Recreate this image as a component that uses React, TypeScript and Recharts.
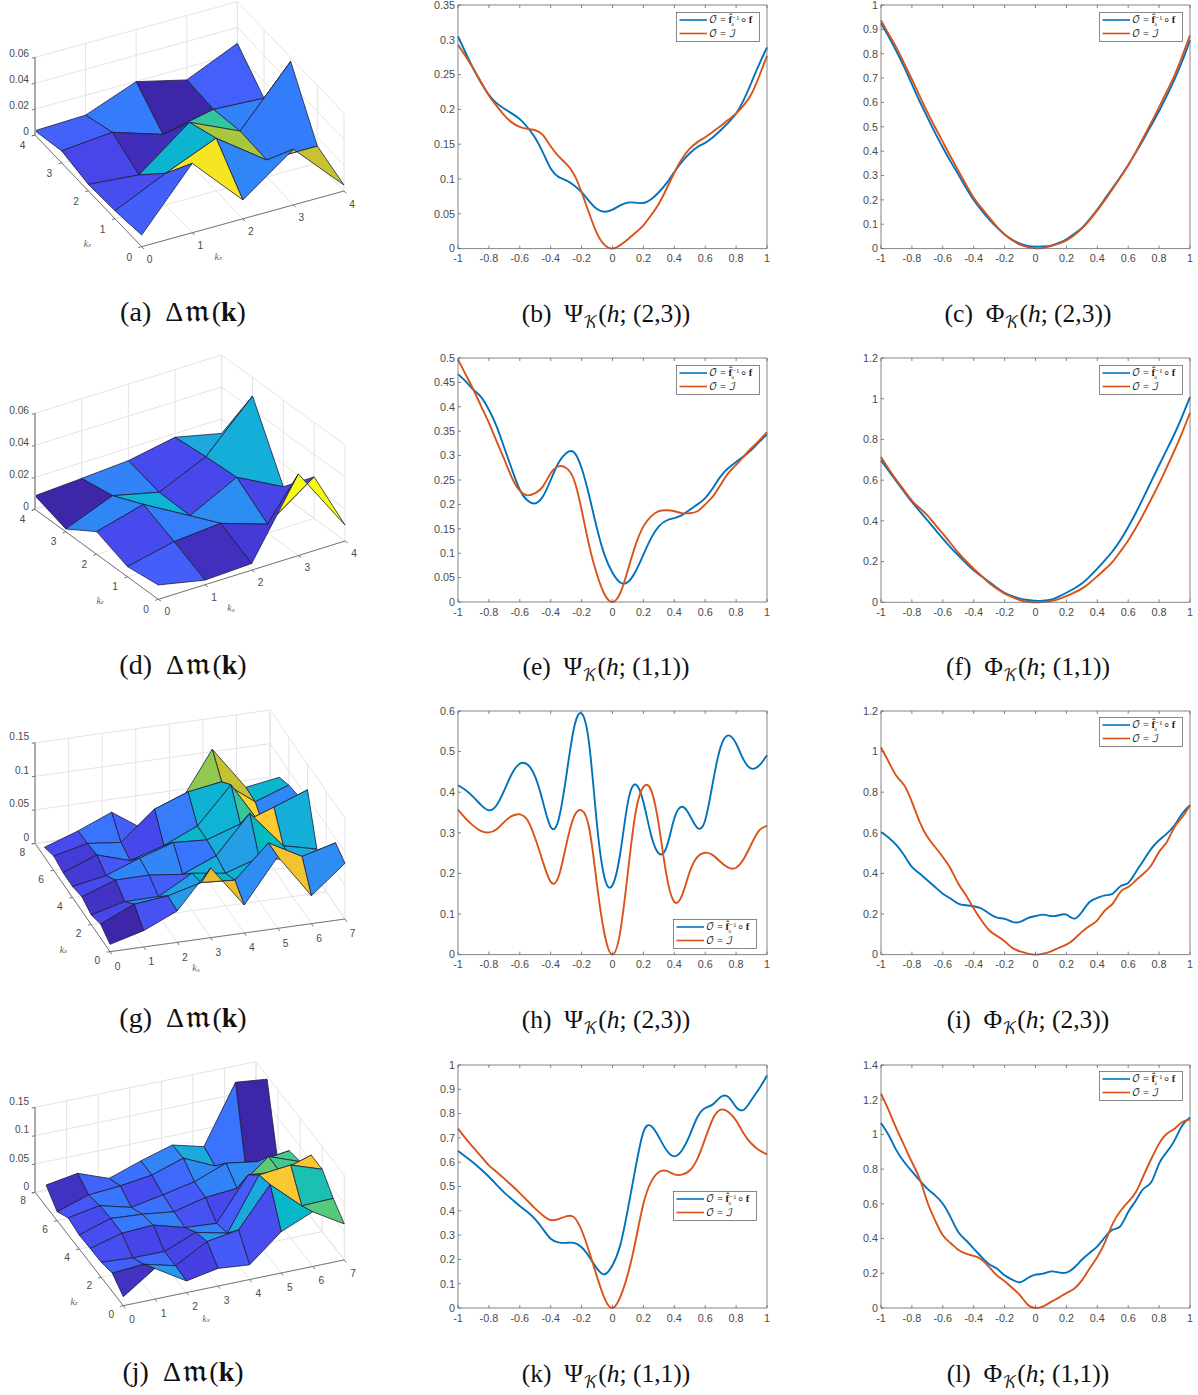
import React from 'react';
import {
  LineChart,
  Line,
  ScatterChart,
  Scatter,
  XAxis,
  YAxis,
  Legend,
} from 'recharts';

// sample positions shared by every curve panel
const hValues = [
  -1, -0.95, -0.9, -0.85, -0.8, -0.75, -0.7, -0.65, -0.6, -0.55, -0.5, -0.45, -0.4, -0.35, -0.3, -0.25, -0.2, -0.15, -0.1, -0.05, 0,
  0.05, 0.1, 0.15, 0.2, 0.25, 0.3, 0.35, 0.4, 0.45, 0.5, 0.55, 0.6, 0.65, 0.7, 0.75, 0.8, 0.85, 0.9, 0.95, 1,
];
const hTicks = [-1, -0.8, -0.6, -0.4, -0.2, 0, 0.2, 0.4, 0.6, 0.8, 1];

const bBlue = [.305,.281,.258,.238,.221,.209,.201,.194,.186,.174,.159,.138,.115,.103,.098,.091,.081,.068,.057,.053,.056,.062,.066,.066,.0655,.071,.081,.094,.110,.125,.137,.146,.152,.16,.170,.181,.194,.214,.239,.265,.289];
const bRed = [.293,.276,.2585,.239,.220,.205,.1915,.181,.175,.172,.170,.163,.147,.133,.122,.107,.081,.05,.0215,.005,0,.005,.0135,.023,.0335,.048,.0645,.086,.109,.129,.1435,.153,.16,.168,.176,.185,.194,.206,.2225,.248,.277];
const cBlue = [.925,.87,.81,.745,.675,.605,.54,.475,.415,.358,.305,.25,.2,.158,.12,.087,.058,.036,.02,.011,.008,.009,.012,.023,.038,.06,.085,.12,.16,.205,.25,.295,.343,.395,.45,.507,.565,.628,.695,.77,.855];
const cRed = [.937,.88,.825,.76,.695,.627,.56,.498,.438,.378,.32,.263,.209,.167,.128,.09,.058,.034,.016,.006,.001,.003,.01,.02,.034,.055,.082,.117,.157,.2,.246,.293,.342,.398,.458,.518,.581,.645,.711,.79,.875];
const eBlue = [.467,.452,.435,.42,.394,.36,.3155,.271,.23,.208,.202,.2165,.25,.285,.305,.307,.2745,.2165,.15,.095,.06,.04,.041,.063,.097,.131,.155,.167,.172,.178,.189,.2,.213,.2335,.2575,.2745,.287,.2985,.312,.328,.343];
const eRed = [.497,.466,.435,.401,.367,.329,.292,.254,.228,.2185,.223,.237,.264,.278,.2745,.251,.189,.114,.056,.015,0,.018,.066,.1175,.155,.1755,.186,.188,.186,.182,.182,.186,.2,.2165,.2405,.264,.281,.2985,.3155,.331,.348];
const fBlue = [.697,.645,.594,.543,.493,.448,.403,.358,.313,.27,.231,.193,.157,.128,.1,.072,.046,.03,.018,.011,.007,.008,.013,.028,.047,.068,.092,.126,.165,.207,.252,.306,.37,.44,.517,.595,.673,.75,.828,.915,1.008];
const fRed = [.713,.655,.6,.55,.5,.463,.427,.382,.337,.29,.244,.203,.165,.13,.095,.067,.043,.025,.01,.003,0,.002,.006,.016,.03,.047,.067,.095,.128,.162,.2,.25,.304,.366,.435,.508,.583,.664,.746,.835,.931];
const hBlue = [.417,.405,.388,.368,.3555,.368,.405,.446,.470,.468,.4375,.376,.3145,.331,.4375,.557,.594,.5155,.3185,.187,.171,.249,.376,.419,.376,.294,.249,.265,.335,.364,.343,.312,.331,.425,.5115,.54,.52,.479,.458,.466,.491];
const hRed = [.357,.335,.317,.304,.301,.309,.327,.3415,.3455,.331,.286,.228,.179,.191,.269,.339,.3555,.31,.171,.0475,0,.056,.204,.351,.413,.405,.3185,.195,.13,.146,.204,.2405,.251,.245,.228,.214,.214,.236,.273,.306,.317];
const iBlue = [.604,.576,.539,.489,.432,.399,.366,.333,.3,.276,.251,.243,.238,.227,.202,.182,.176,.161,.161,.18,.19,.197,.19,.194,.197,.177,.21,.259,.279,.292,.3,.337,.353,.407,.465,.522,.563,.596,.637,.695,.736];
const iRed = [1.02,.949,.88,.834,.752,.654,.58,.53,.481,.424,.35,.292,.227,.169,.12,.092,.066,.033,.016,.005,0,.005,.016,.033,.049,.076,.112,.141,.169,.218,.251,.309,.333,.366,.399,.44,.506,.555,.629,.678,.736];
const kBlue = [.646,.622,.598,.57,.54,.507,.475,.447,.42,.395,.365,.325,.285,.27,.268,.268,.25,.21,.162,.139,.176,.258,.409,.58,.724,.749,.704,.649,.624,.649,.711,.786,.823,.838,.868,.868,.827,.816,.857,.903,.957];
const kRed = [.738,.697,.66,.623,.587,.56,.532,.503,.473,.441,.409,.381,.362,.366,.377,.374,.32,.23,.128,.038,0,.045,.141,.278,.429,.519,.56,.564,.55,.549,.566,.615,.697,.779,.816,.807,.772,.717,.676,.649,.632];
const lBlue = [1.066,.995,.908,.841,.787,.736,.688,.649,.601,.524,.438,.39,.342,.294,.252,.227,.188,.163,.148,.173,.192,.198,.211,.205,.204,.232,.278,.317,.355,.409,.451,.472,.553,.62,.688,.726,.832,.899,.966,1.052,1.097];
const lRed = [1.235,1.139,1.033,.937,.841,.745,.611,.505,.419,.374,.336,.313,.3,.28,.236,.188,.154,.115,.073,.019,0,.01,.035,.06,.086,.111,.159,.227,.294,.38,.486,.559,.611,.668,.764,.86,.947,1.004,1.033,1.072,1.085];

// surface heights, one row per k_z, one column per k_x
const aZ = [
  [.009, .0536, .0146, .043, .0046],
  [.0062, .0243, .0407, .0131, .0131],
  [.005, .0015, .0314, .0139, .057],
  [.0093, .0129, .0005, .0091, .007],
  [.0033, .0046, .0197, .0103, .0278],
];
const dZ = [
  [.009, .0029, .0042, .051, .01],
  [.0064, .0129, .0152, .0056, .026],
  [.0142, .0221, .0059, .0208, .0058],
  [.0018, .0135, .0065, .0196, .0484],
  [.0085, .0102, .0122, .0177, .011],
];
const gZ = [
  [.0109, .0243, .0467, .104, .0417, .107, .0417, .083],
  [.0209, .0437, .049, .062, .0586, .107, .08, .0934],
  [.0144, .0273, .0278, .0556, .0487, .065, .0546, .0378],
  [.0214, .0392, .0397, .0338, .0546, .1108, .0556, .0437],
  [.0164, .0258, .0447, .0611, .0581, .075, .0929, .1118],
  [.0169, .0363, .0209, .0363, .0586, .113, .04, .083],
  [.0214, .0333, .0278, .0705, .0894, .0974, .0606, .0785],
  [.0144, .0318, .0527, .0194, .05, .1257, .062, .07],
];
const jZ = [
  [.0159, .0541, .0206, .0312, .0259, .0729, .0965, .0635],
  [.0324, .0365, .0224, .0535, .0624, .131, .082, .0835],
  [.0265, .0229, .0224, .0447, .0318, .123, .129, .11],
  [.0259, .0412, .0441, .0282, .0241, .098, .0924, .11],
  [.0247, .0424, .0382, .0312, .0447, .0494, .094, .0735],
  [.03, .04, .0253, .0359, .0476, .0688, .06, .0678],
  [.0159, .0338, .0382, .0459, .0641, .0388, .012, .02],
  [.0379, .047, .0265, .0459, .0624, .048, .15, .144],
];

const smallXTicks = [0, 1, 2, 3, 4];
const largeXTicks = [0, 1, 2, 3, 4, 5, 6, 7];
const largeZTicks = [0, 2, 4, 6, 8];

const BLUE = '#0072BD';
const RED = '#D95319';
const TICK_COLOR = '#4a4a4a';
const SANS = '"Liberation Sans", Arial, sans-serif';
const SERIF = '"Liberation Serif", "DejaVu Math TeX Gyre", "DejaVu Serif", serif';

const PARULA: number[][] = [
  [.2422, .1504, .6603], [.2783, .2559, .8991], [.2795, .3447, .9717], [.2206, .4603, .9973],
  [.1764, .5499, .952], [.138, .6276, .8973], [.0689, .6948, .8394], [.0067, .7306, .7661],
  [.1717, .767, .6554], [.2906, .7973, .5188], [.5044, .7993, .348], [.7242, .7698, .191],
  [.9035, .733, .1774], [.9952, .7861, .199], [.9598, .8906, .1452], [.9763, .9831, .0538],
];

const parula = (t: number) => {
  const p = Math.min(Math.max(t, 0), 1) * (PARULA.length - 1);
  const lo = Math.min(Math.floor(p), PARULA.length - 2);
  const f = p - lo;
  const c = PARULA[lo].map((v, n) => Math.round(255 * (v + (PARULA[lo + 1][n] - v) * f)));
  return `rgb(${c[0]},${c[1]},${c[2]})`;
};

interface SurfaceView {
  left: number;
  top: number;
  grid: number[][];
  origin: [number, number];
  stepX: [number, number];
  stepZ: [number, number];
  unitsPerHeight: number;
  xMax: number;
  zMax: number;
  heightMax: number;
  heightTicks: number[];
  xTicks: number[];
  zTicks: number[];
  xTickOffset: [number, number];
  zTickOffset: [number, number];
  heightTickDy: number;
  xLabel: [number, number];
  zLabel: [number, number];
}

const outline = (fill: string, stroke: string, strokeWidth: number) => (p: any) => {
  const pts = p.points.map((q: any) => `${q.x},${q.y}`).join(' ');
  return fill === 'none'
    ? <polyline key="l" points={pts} fill="none" stroke={stroke} strokeWidth={strokeWidth} />
    : <polygon key="f" points={pts} fill={fill} stroke={stroke} strokeWidth={strokeWidth} strokeLinejoin="round" />;
};

const NoDot = () => <g />;

const tickText = (p: any) => {
  const d = p.payload;
  return (
    <text x={p.cx} y={p.cy} textAnchor={d.anchor} dominantBaseline="central" fontFamily={SANS} fontSize={10.2} fill={TICK_COLOR}>
      {d.label}
    </text>
  );
};

const axisName = (p: any) => (
  <text x={p.cx} y={p.cy} textAnchor="middle" dominantBaseline="central" fontFamily={SERIF} fontSize={10} fontStyle="italic" fill="#666">
    k<tspan dy={2} fontSize={7}>{p.payload.sub}</tspan>
  </text>
);

const Surface: React.FC<{ view: SurfaceView }> = ({ view }) => {
  const { grid, origin, stepX, stepZ, unitsPerHeight, xMax, zMax, heightMax } = view;
  const at = (kx: number, kz: number, h: number) => ({
    x: origin[0] + kx * stepX[0] + kz * stepZ[0],
    y: origin[1] + kx * stepX[1] + kz * stepZ[1] - h * unitsPerHeight,
  });
  const stroked = (key: string, pts: { x: number; y: number }[], stroke: string, sw: number) => (
    <Scatter key={key} data={pts} isAnimationActive={false} shape={NoDot} line={outline('none', stroke, sw)} />
  );
  const norm = (v: [number, number]) => {
    const l = Math.hypot(v[0], v[1]);
    return [v[0] / l, v[1] / l];
  };
  const outX = norm(stepX);
  const outZ = norm(stepZ);
  const TL = 10;

  const walls: React.ReactNode[] = [];
  view.xTicks.forEach((t) => {
    walls.push(stroked(`fx${t}`, [at(t, 0, 0), at(t, zMax, 0)], '#e4e4e4', 1));
    walls.push(stroked(`wx${t}`, [at(t, zMax, 0), at(t, zMax, heightMax)], '#e4e4e4', 1));
  });
  view.zTicks.forEach((t) => {
    walls.push(stroked(`fz${t}`, [at(0, t, 0), at(xMax, t, 0)], '#e4e4e4', 1));
    walls.push(stroked(`wz${t}`, [at(xMax, t, 0), at(xMax, t, heightMax)], '#e4e4e4', 1));
  });
  view.heightTicks.forEach((t) => {
    walls.push(stroked(`hl${t}`, [at(0, zMax, t), at(xMax, zMax, t), at(xMax, 0, t)], '#e4e4e4', 1));
  });

  const faces: React.ReactNode[] = [];
  const all = grid.flat();
  const lo = Math.min(...all);
  const hi = Math.max(...all);
  for (let j = grid.length - 2; j >= 0; j--) {
    for (let i = grid[j].length - 2; i >= 0; i--) {
      const pts = [at(i, j, grid[j][i]), at(i + 1, j, grid[j][i + 1]), at(i + 1, j + 1, grid[j + 1][i + 1]), at(i, j + 1, grid[j + 1][i])];
      faces.push(
        <Scatter
          key={`s${i}-${j}`}
          data={pts}
          isAnimationActive={false}
          shape={NoDot}
          line={outline(parula((grid[j][i] - lo) / (hi - lo)), '#1c1c3a', 0.8)}
        />
      );
    }
  }

  const axes: React.ReactNode[] = [
    stroked('ax', [at(0, 0, 0), at(xMax, 0, 0)], '#777', 1),
    stroked('az', [at(0, 0, 0), at(0, zMax, 0)], '#777', 1),
    stroked('ah', [at(0, zMax, 0), at(0, zMax, heightMax)], '#aaa', 2),
  ];
  const labels: any[] = [];
  view.xTicks.forEach((t) => {
    const a = at(t, 0, 0);
    axes.push(stroked(`tx${t}`, [a, { x: a.x - outZ[0] * TL, y: a.y - outZ[1] * TL }], '#777', 1));
    labels.push({ x: a.x + view.xTickOffset[0], y: a.y + view.xTickOffset[1], label: String(t), anchor: 'middle' });
  });
  view.zTicks.forEach((t) => {
    const a = at(0, t, 0);
    axes.push(stroked(`tz${t}`, [a, { x: a.x - outX[0] * TL, y: a.y - outX[1] * TL }], '#777', 1));
    labels.push({ x: a.x + view.zTickOffset[0], y: a.y + view.zTickOffset[1], label: String(t), anchor: 'middle' });
  });
  view.heightTicks.forEach((t) => {
    const a = at(0, zMax, t);
    axes.push(stroked(`th${t}`, [a, { x: a.x - outX[0] * TL, y: a.y - outX[1] * TL }], '#777', 1));
    labels.push({ x: a.x - 18, y: a.y + view.heightTickDy, label: String(t), anchor: 'end' });
  });

  const names = [
    { x: view.xLabel[0], y: view.xLabel[1], sub: 'x' },
    { x: view.zLabel[0], y: view.zLabel[1], sub: 'z' },
  ];

  return (
    <div style={{ position: 'absolute', left: view.left, top: view.top }}>
      {/* the axes run in 3x crop units, projected points go through their scales */}
      <ScatterChart width={360} height={290} margin={{ top: 0, right: 0, bottom: 0, left: 0 }}>
        <XAxis type="number" dataKey="x" domain={[0, 1080]} hide allowDataOverflow />
        <YAxis type="number" dataKey="y" domain={[0, 870]} reversed hide allowDataOverflow />
        {walls}
        {faces}
        {axes}
        <Scatter data={labels} isAnimationActive={false} shape={tickText} />
        <Scatter data={names} isAnimationActive={false} shape={axisName} />
      </ScatterChart>
    </div>
  );
};

const LegendBox: React.FC = () => (
  <svg width={84} height={30} style={{ display: 'block', overflow: 'visible' }}>
    <rect x={0.5} y={0.5} width={83} height={29} fill="#fff" stroke="#555" strokeWidth={0.7} />
    <line x1={3.5} x2={31} y1={8} y2={8} stroke={BLUE} strokeWidth={1.6} />
    <line x1={3.5} x2={31} y1={21.5} y2={21.5} stroke={RED} strokeWidth={1.6} />
    <text x={33} y={11} fontFamily={SERIF} fontSize={10.5} fill="#222">
      𝒪 = <tspan fontWeight="bold">f̂</tspan>
      <tspan dy={-3} fontSize={7}>−1</tspan>
      <tspan dx={-8} dy={6} fontSize={5}>θ</tspan>
      <tspan dx={7} dy={-3}>∘ </tspan>
      <tspan fontWeight="bold">f</tspan>
    </text>
    <text x={33} y={24.5} fontFamily={SERIF} fontSize={10.5} fill="#222">𝒪 = ℐ</text>
  </svg>
);

interface CurveProps {
  left: number;
  right: number;
  top: number;
  bottom: number;
  blue: number[];
  red: number[];
  yTicks: number[];
  legendLeft: number;
  legendTop: number;
}

const Curves: React.FC<CurveProps> = ({ left, right, top, bottom, blue, red, yTicks, legendLeft, legendTop }) => {
  const data = hValues.map((h, i) => ({ h, blue: blue[i], red: red[i] }));
  const domain: [number, number] = [0, yTicks[yTicks.length - 1]];
  const axisProps = { stroke: '#666', strokeWidth: 0.8, interval: 0 as const, tickSize: -3 };
  const tickStyle = { fontSize: 10.8, fontFamily: SANS, fill: TICK_COLOR };
  const chartLeft = left - 30;
  const chartTop = top - 6;
  return (
    <div style={{ position: 'absolute', left: chartLeft, top: chartTop }}>
      <LineChart
        width={right - left + 38}
        height={bottom - top + 26}
        data={data}
        margin={{ top: 5, right: 7, bottom: 0, left: 0 }}
      >
        <XAxis xAxisId="b" dataKey="h" type="number" domain={[-1, 1]} ticks={hTicks} height={20} tick={tickStyle} tickMargin={9} {...axisProps} />
        <XAxis xAxisId="t" orientation="top" dataKey="h" type="number" domain={[-1, 1]} ticks={hTicks} height={1} tickFormatter={() => ''} {...axisProps} />
        <YAxis yAxisId="l" type="number" domain={domain} ticks={yTicks} width={30} tick={tickStyle} tickMargin={6} {...axisProps} />
        <YAxis yAxisId="r" orientation="right" type="number" domain={domain} ticks={yTicks} width={1} tickFormatter={() => ''} {...axisProps} />
        <Legend
          layout="vertical"
          align="center"
          verticalAlign="middle"
          content={() => <LegendBox />}
          wrapperStyle={{ left: legendLeft - chartLeft, top: legendTop - chartTop, right: 'auto', bottom: 'auto', width: 84, height: 30 }}
        />
        <Line xAxisId="b" yAxisId="l" type="natural" dataKey="blue" stroke={BLUE} strokeWidth={1.9} dot={false} isAnimationActive={false} />
        <Line xAxisId="b" yAxisId="l" type="natural" dataKey="red" stroke={RED} strokeWidth={1.9} dot={false} isAnimationActive={false} />
      </LineChart>
    </div>
  );
};

const Caption: React.FC<{ x: number; y: number; tag: string; kind: 'm' | 'psi' | 'phi'; arg?: string }> = ({ x, y, tag, kind, arg }) => (
  <div
    style={{
      position: 'absolute',
      left: x,
      top: y,
      transform: 'translate(-50%, -50%)',
      fontFamily: SERIF,
      fontSize: kind === 'm' ? 28 : 25.5,
      color: '#111',
      whiteSpace: 'nowrap',
      lineHeight: '30px',
    }}
  >
    ({tag})&nbsp;&nbsp;
    {kind === 'm' ? (
      <span>Δ𝔪(<b>k</b>)</span>
    ) : (
      <span>
        {kind === 'psi' ? 'Ψ' : 'Φ'}
        <sub style={{ fontSize: 16, lineHeight: 0 }}>𝒦</sub>(<i>h</i>; ({arg}))
      </span>
    )}
  </div>
);

const viewA: SurfaceView = {
  left: 0, top: 0, grid: aZ, origin: [425, 740], stepX: [151.75, -41.75], stepZ: [-80, -83.75], unitsPerHeight: 3883,
  xMax: 4, zMax: 4, heightMax: 0.06, heightTicks: [0, 0.02, 0.04, 0.06], xTicks: smallXTicks, zTicks: smallXTicks,
  xTickOffset: [24, 39], zTickOffset: [-37, 32], heightTickDy: -12, xLabel: [655, 768], zLabel: [262, 730],
};
const viewD: SurfaceView = {
  left: 0, top: 350, grid: dZ, origin: [475, 748], stepX: [140, -43.75], stepZ: [-92.5, -67.5], unitsPerHeight: 4800,
  xMax: 4, zMax: 4, heightMax: 0.06, heightTicks: [0, 0.02, 0.04, 0.06], xTicks: smallXTicks, zTicks: smallXTicks,
  xTickOffset: [27, 37], zTickOffset: [-37, 30], heightTickDy: -8, xLabel: [693, 773], zLabel: [300, 750],
};
const viewG: SurfaceView = {
  left: 0, top: 700, grid: gZ, origin: [330, 755], stepX: [100.7, -14], stepZ: [-28.1, -40.6], unitsPerHeight: 2013,
  xMax: 7, zMax: 8, heightMax: 0.15, heightTicks: [0, 0.05, 0.1, 0.15], xTicks: largeXTicks, zTicks: largeZTicks,
  xTickOffset: [23, 44], zTickOffset: [-38, 26], heightTickDy: -18, xLabel: [588, 803], zLabel: [190, 748],
};
const viewJ: SurfaceView = {
  left: 0, top: 1055, grid: jZ, origin: [370, 752], stepX: [94.7, -19.6], stepZ: [-33.1, -42.5], unitsPerHeight: 1700,
  xMax: 7, zMax: 8, heightMax: 0.15, heightTicks: [0, 0.05, 0.1, 0.15], xTicks: largeXTicks, zTicks: largeZTicks,
  xTickOffset: [26, 42], zTickOffset: [-36, 25], heightTickDy: -18, xLabel: [618, 790], zLabel: [222, 738],
};

const L1 = 458.3;
const R1 = 767.3;
const L2 = 881;
const R2 = 1190;

export default function App() {
  return (
    <div style={{ position: 'absolute', left: 0, top: 0, width: 1198, height: 1395, background: '#fff', overflow: 'hidden' }}>
      <Surface view={viewA} />
      <Surface view={viewD} />
      <Surface view={viewG} />
      <Surface view={viewJ} />

      <Curves left={L1} right={R1} top={4.7} bottom={248.3} blue={bBlue} red={bRed} yTicks={[0, .05, .1, .15, .2, .25, .3, .35]} legendLeft={676} legendTop={11.5} />
      <Curves left={L2} right={R2} top={4.7} bottom={248.3} blue={cBlue} red={cRed} yTicks={[0, .1, .2, .3, .4, .5, .6, .7, .8, .9, 1]} legendLeft={1099} legendTop={11.5} />
      <Curves left={L1} right={R1} top={358.3} bottom={602.3} blue={eBlue} red={eRed} yTicks={[0, .05, .1, .15, .2, .25, .3, .35, .4, .45, .5]} legendLeft={676} legendTop={365} />
      <Curves left={L2} right={R2} top={357.7} bottom={602} blue={fBlue} red={fRed} yTicks={[0, .2, .4, .6, .8, 1, 1.2]} legendLeft={1099} legendTop={365} />
      <Curves left={L1} right={R1} top={710.7} bottom={954.3} blue={hBlue} red={hRed} yTicks={[0, .1, .2, .3, .4, .5, .6]} legendLeft={673} legendTop={919.5} />
      <Curves left={L2} right={R2} top={710.7} bottom={954.3} blue={iBlue} red={iRed} yTicks={[0, .2, .4, .6, .8, 1, 1.2]} legendLeft={1099} legendTop={717} />
      <Curves left={L1} right={R1} top={1064.7} bottom={1307.7} blue={kBlue} red={kRed} yTicks={[0, .1, .2, .3, .4, .5, .6, .7, .8, .9, 1]} legendLeft={673} legendTop={1191.5} />
      <Curves left={L2} right={R2} top={1064.7} bottom={1307.7} blue={lBlue} red={lRed} yTicks={[0, .2, .4, .6, .8, 1, 1.2, 1.4]} legendLeft={1099} legendTop={1071.5} />

      <Caption x={183} y={312} tag="a" kind="m" />
      <Caption x={606} y={314} tag="b" kind="psi" arg="2,3" />
      <Caption x={1028} y={314} tag="c" kind="phi" arg="2,3" />
      <Caption x={183} y={665} tag="d" kind="m" />
      <Caption x={606} y={667} tag="e" kind="psi" arg="1,1" />
      <Caption x={1028} y={667} tag="f" kind="phi" arg="1,1" />
      <Caption x={183} y={1018} tag="g" kind="m" />
      <Caption x={606} y={1020} tag="h" kind="psi" arg="2,3" />
      <Caption x={1028} y={1020} tag="i" kind="phi" arg="2,3" />
      <Caption x={183} y={1372} tag="j" kind="m" />
      <Caption x={606} y={1374} tag="k" kind="psi" arg="1,1" />
      <Caption x={1028} y={1374} tag="l" kind="phi" arg="1,1" />
    </div>
  );
}
